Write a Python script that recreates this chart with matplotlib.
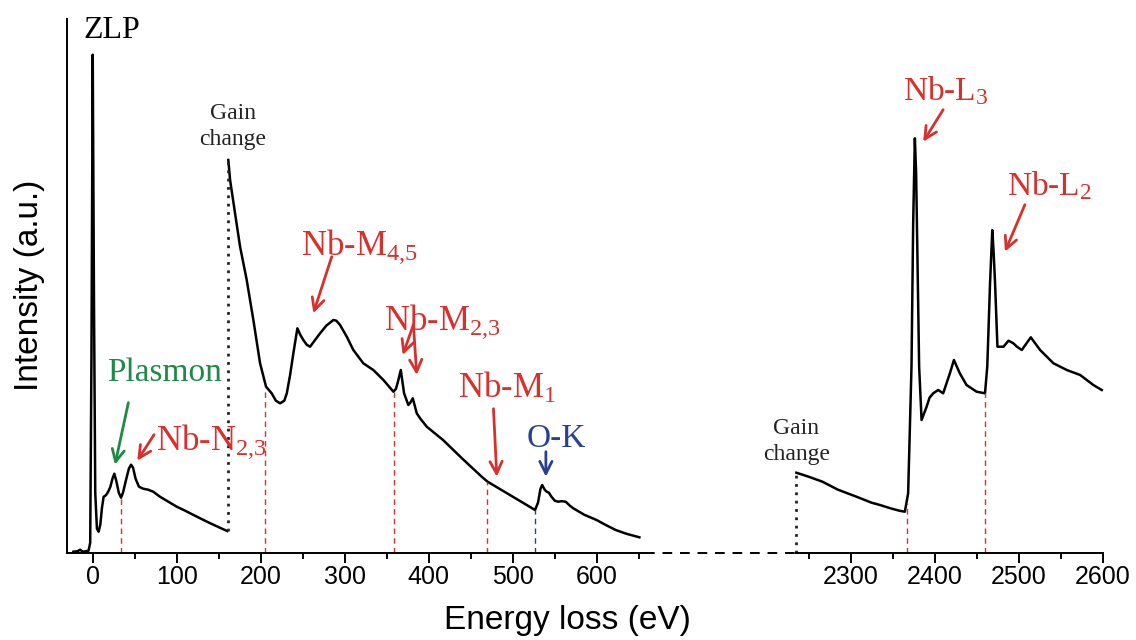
import matplotlib
matplotlib.use('Agg')
import matplotlib.pyplot as plt
from matplotlib.ticker import MultipleLocator

plt.rcParams['mathtext.default'] = 'regular'

# ---- data ----
# low-loss part (ZLP, plasmon, Nb-N2,3), before first gain change
low_e = [-23, -18, -15, -12, -8, -5, -3, -1.5, 0, 1.5, 3, 5, 7, 9, 11, 13, 15, 17, 19, 21,
         23.5, 25.7, 28, 31, 33.7, 36, 40, 43, 45.6, 48, 51, 55, 60, 66, 72, 80, 90, 100,
         110, 120, 130, 140, 150, 160]
low_i = [1, 1.5, 3, 1, 1.5, 2, 10, 200, 498, 250, 60, 24, 21, 28, 45, 56, 57, 59, 62, 66,
         74, 79, 72, 60, 55, 60, 74, 84, 88, 85, 74, 66, 64, 63, 61, 56, 51, 46,
         42, 37.7, 33.5, 29.4, 25.5, 21.7]

# core-loss part after first gain change (Nb-M edges, O-K)
mid_e = [161.4, 163.5, 169.4, 175.4, 183.3, 191.2, 199.2, 206.3, 213, 218, 223, 228, 231, 235,
         238.8, 243.6, 247, 250.7, 254.7, 258.7, 264, 270.6, 278, 286.4, 290, 294.4, 302.4,
         310.2, 322.1, 334, 346, 357.9, 361, 363.8, 366.7, 370.6, 375.7, 378, 381, 385.7, 390,
         397.6, 417, 440, 463, 470, 490, 508, 520, 526.5, 530, 533, 535, 538, 540.4, 543, 546,
         550, 554, 558, 563, 568, 572, 585, 599.7, 610, 622.5, 635, 650.7]
mid_i = [392.7, 372.7, 339.4, 306, 272.7, 232.7, 189.4, 166, 159.4, 152, 149.4, 152, 159.4, 178,
         199.4, 224.4, 218, 212.7, 208, 206, 212, 219.4, 227, 232.7, 232, 227.7, 216,
         202.7, 189.4, 182.7, 172.7, 161, 164, 172.7, 182.7, 159.4, 147.7, 150, 154.4, 139.4, 134,
         126, 112.7, 94, 76, 71, 61, 52, 46, 42.7, 50, 64, 67.7, 63, 61, 60, 56,
         52, 51, 51.5, 51, 47, 44.4, 38, 32.7, 28, 22.7, 19, 15.4]

# high-loss part after second gain change (Nb-L edges)
high_e = [2235.4, 2250, 2266.5, 2285, 2307, 2325, 2335, 2347.5, 2358, 2364.6, 2368.5, 2372.5,
          2374.5, 2376.5, 2378, 2379.5, 2381.6, 2384.5, 2390.5, 2394, 2398.3, 2404.3, 2410.2,
          2418.2, 2423, 2430, 2438, 2450, 2460, 2462.7, 2466, 2468.7, 2470.3, 2472, 2474.8,
          2482, 2488, 2493.8, 2498, 2503.8, 2514.5, 2525.6, 2541.5, 2557.4, 2573.3, 2589, 2599]
high_i = [80, 76, 71, 63, 56, 50, 47.7, 44.4, 42, 41, 59.4, 186,
          330, 414.4, 380, 300, 186, 132.7, 146, 155, 159.4, 162.7, 159.4,
          179.4, 192.7, 179.4, 167.7, 161, 159.4, 186, 269.4, 322.7, 300, 269, 206,
          206, 212, 209.4, 206, 202.7, 215.4, 202.7, 189.4, 182.7, 177.7, 167.7, 162.7]

# edge onset markers (energy, height of dashed line)
red_edges_left = [(34, 55), (205, 166), (359, 161), (469, 71)]
blue_edges_left = [(526.5, 42.7)]
red_edges_right = [(2367, 50), (2460, 159.4)]
gain_left = (161.4, 21.7, 392.7)
gain_right = (2235.4, 0, 80)

RED = '#d8302c'
GREEN = '#1e8a46'
BLUE = '#283f96'
SERIF = 'Liberation Serif'
SANS = 'Liberation Sans'

fig = plt.figure(figsize=(11.36, 6.4), dpi=100)
ax1 = fig.add_axes([0.059, 0.1364, 0.5085, 0.8339])
ax2 = fig.add_axes([0.7007, 0.1364, 0.2699, 0.8339])

ax1.set_xlim(-30.6, 657)
ax2.set_xlim(2235, 2600)
for ax in (ax1, ax2):
    ax.set_ylim(0, 533.7)
    ax.spines['top'].set_visible(False)
    ax.spines['right'].set_visible(False)
    ax.spines['bottom'].set_linewidth(1.4)
    ax.spines['left'].set_linewidth(1.4)
    ax.set_yticks([])
    ax.tick_params(axis='x', which='major', length=7, width=1.4, pad=2, labelsize=18)
    ax.tick_params(axis='x', which='minor', length=4, width=1.4)
    ax.patch.set_alpha(0)
ax2.spines['left'].set_visible(False)

ax1.xaxis.set_major_locator(MultipleLocator(100))
ax1.xaxis.set_minor_locator(MultipleLocator(50))
ax2.set_xticks([2300, 2400, 2500, 2600])
ax2.set_xticks([2250, 2350, 2450, 2550], minor=True)
for ax in (ax1, ax2):
    for lab in ax.get_xticklabels():
        lab.set_family(SANS)
        lab.set_fontsize(18)

# spectrum
ax1.plot(low_e, low_i, color='black', lw=1.8, clip_on=False)
ax1.plot(mid_e, mid_i, color='black', lw=1.8, clip_on=False)
ax2.plot(high_e, high_i, color='black', lw=1.8, clip_on=False)

# gain change dotted lines
ax1.plot([gain_left[0]] * 2, gain_left[1:], color='#222222', lw=2, ls=(0, (1, 2)))
ax2.plot([gain_right[0]] * 2, gain_right[1:], color='#222222', lw=2, ls=(0, (1, 2)), clip_on=False)

# edge markers
for e, h in red_edges_left:
    ax1.plot([e, e], [0, h], color=RED, lw=1, ls=(0, (4, 3)))
for e, h in blue_edges_left:
    ax1.plot([e, e], [0, h], color=BLUE, lw=1, ls=(0, (4, 3)))
for e, h in red_edges_right:
    ax2.plot([e, e], [0, h], color=RED, lw=1, ls=(0, (4, 3)))

# axis break: dashed line joining both parts
ax1.plot([657, 837], [0, 0], color='black', lw=1.4, ls=(0, (5, 4)), clip_on=False)

# labels
ax1.text(23, 522, 'ZLP', family=SERIF, fontsize=23, ha='center', va='center')
ax1.text(167, 426, 'Gain\nchange', family=SERIF, fontsize=17, ha='center', va='center',
         color='#222222', linespacing=1.3)
ax2.text(2235.6, 111, 'Gain\nchange', family=SERIF, fontsize=17, ha='center', va='center',
         color='#222222', linespacing=1.3)

arrow = dict(arrowstyle='->', lw=2, mutation_scale=22, shrinkA=0, shrinkB=0)

ax1.text(86, 180, 'Plasmon', family=SERIF, fontsize=24, color=GREEN, ha='center', va='center')
ax1.annotate('', xy=(26.5, 88), xytext=(42.4, 150), arrowprops=dict(arrow, color=GREEN))

ax1.text(75, 102.7, 'Nb-N$_{2{,}3}$', family=SERIF, fontsize=25, color=RED, ha='left', va='baseline')
ax1.annotate('', xy=(53, 92), xytext=(73, 118), arrowprops=dict(arrow, color=RED))

ax1.text(247.6, 297.7, 'Nb-M$_{4{,}5}$', family=SERIF, fontsize=25, color=RED, ha='left', va='baseline')
ax1.annotate('', xy=(262.6, 239.4), xytext=(284.5, 296), arrowprops=dict(arrow, color=RED))

ax1.text(346.8, 222.7, 'Nb-M$_{2{,}3}$', family=SERIF, fontsize=25, color=RED, ha='left', va='baseline')
ax1.annotate('', xy=(369, 197.7), xytext=(381.7, 228), arrowprops=dict(arrow, color=RED))
ax1.annotate('', xy=(385.7, 177.7), xytext=(381.7, 228), arrowprops=dict(arrow, color=RED))

ax1.text(435.2, 154.4, 'Nb-M$_{1}$', family=SERIF, fontsize=25, color=RED, ha='left', va='baseline')
ax1.annotate('', xy=(481, 76), xytext=(477, 144), arrowprops=dict(arrow, color=RED))

ax1.text(551.5, 106, 'O-K', family=SERIF, fontsize=24, color=BLUE, ha='center', va='baseline')
ax1.annotate('', xy=(539.4, 76), xytext=(539.4, 101), arrowprops=dict(arrow, color=BLUE))

ax2.text(2362.6, 452.7, 'Nb-L$_{3}$', family=SERIF, fontsize=24, color=RED, ha='left', va='baseline')
ax2.annotate('', xy=(2386.4, 411), xytext=(2410.2, 443), arrowprops=dict(arrow, color=RED))

ax2.text(2485.7, 357.7, 'Nb-L$_{2}$', family=SERIF, fontsize=24, color=RED, ha='left', va='baseline')
ax2.annotate('', xy=(2483.7, 301), xytext=(2507.5, 348), arrowprops=dict(arrow, color=RED))

fig.text(567 / 1136, 1 - 620 / 640, 'Energy loss (eV)', family=SANS, fontsize=24,
         ha='center', va='center')
fig.text(30 / 1136, 1 - 285 / 640, 'Intensity (a.u.)', family=SANS, fontsize=24,
         ha='center', va='center', rotation=90)

fig.savefig('out.png', dpi=100)
